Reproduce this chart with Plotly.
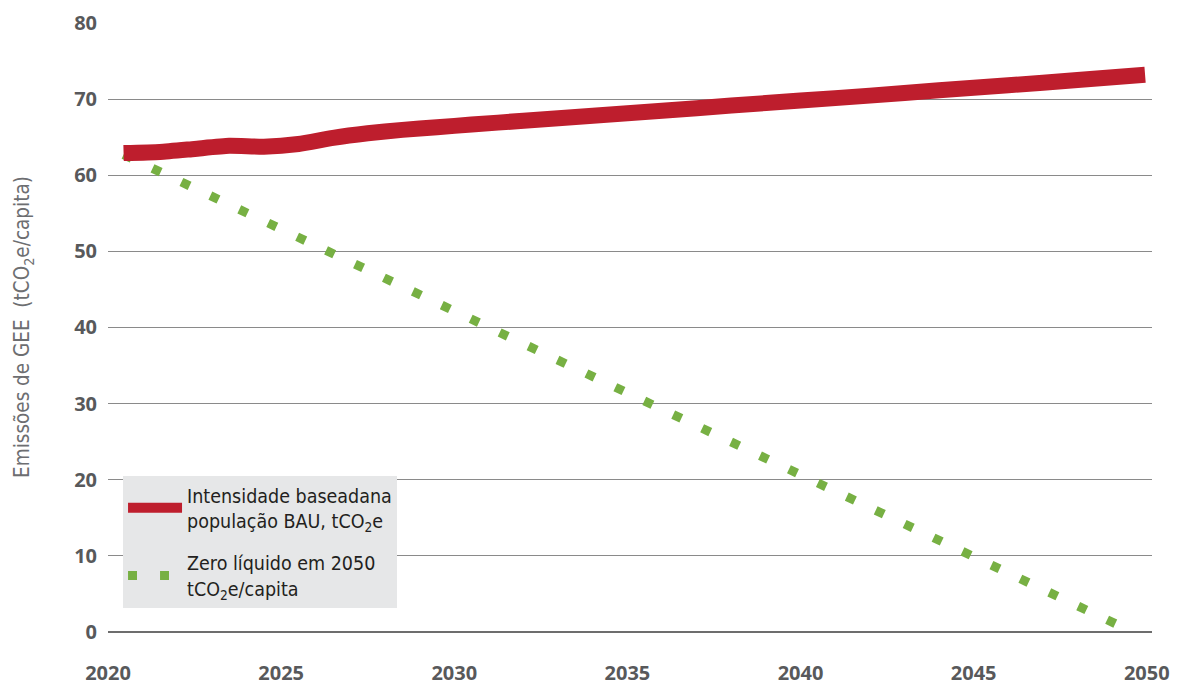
import plotly.graph_objects as go

# ---- data ----
years_bau = [2020.45, 2021.5, 2022.5, 2023.5, 2024.5, 2025.5, 2026.5, 2027.5, 2028.5,
             2029.5, 2030.5, 2032, 2034, 2036, 2038, 2040, 2042, 2044, 2046, 2048, 2049.95]
bau = [62.9, 63.05, 63.45, 63.85, 63.75, 64.1, 64.9, 65.5, 65.95,
       66.3, 66.65, 67.15, 67.8, 68.45, 69.15, 69.8, 70.45, 71.15, 71.8, 72.5, 73.2]

years_zero = [2020.45, 2049.6]
zero = [62.7, 0.0]

x_ticks = [2020, 2025, 2030, 2035, 2040, 2045, 2050]
y_ticks = [0, 10, 20, 30, 40, 50, 60, 70, 80]

name_bau = "Intensidade baseadana<br>população BAU, tCO<sub>2</sub>e"
name_zero = "Zero líquido em 2050<br>tCO<sub>2</sub>e/capita"
y_title = "Emissões de GEE\u00a0\u00a0(tCO<sub>2</sub>e/capita)"

RED = "#be1e2d"
GREEN = "#77b043"
TICK_FONT = dict(family="Open Sans", size=20, color="#58595b", weight=700)

fig = go.Figure()
fig.add_trace(go.Scatter(
    x=years_zero, y=zero, mode="lines", name=name_zero,
    line=dict(color=GREEN, width=9, dash="9px,23px"),
    legendrank=2, legendgroup="zero", hoverinfo="skip"))
fig.add_trace(go.Scatter(
    x=years_bau, y=bau, mode="lines", name=name_bau,
    line=dict(color=RED, width=16, shape="spline", smoothing=0.5),
    legendrank=1, legendgroup="bau", hoverinfo="skip"))

# page body has an 8px margin: figure is drawn from (8, 8)
fig.update_layout(
    width=1170, height=677,
    margin=dict(l=100, r=26, t=14, b=53, autoexpand=False),
    paper_bgcolor="white", plot_bgcolor="white",
    showlegend=True,
    legend=dict(
        x=0.0144, y=0.256, xanchor="left", yanchor="top",
        bgcolor="#e6e7e8", borderwidth=0,
        font=dict(family="DejaVu Sans Condensed", size=19.5, color="#231f20"),
        itemwidth=54, tracegroupgap=14, valign="middle",
        traceorder="grouped",
    ),
    xaxis=dict(
        range=[2020, 2050.15], tickmode="array", tickvals=x_ticks,
        ticktext=[str(v) for v in x_ticks],
        showgrid=False, zeroline=False, showline=False, ticks="",
        tickfont=TICK_FONT, ticklabelstandoff=27, automargin=False,
    ),
    yaxis=dict(
        range=[0, 80.12], tickmode="array", tickvals=y_ticks,
        showgrid=True, gridcolor="#8a8a8a", gridwidth=1,
        zeroline=True, zerolinecolor="#6d6d6d", zerolinewidth=1.5,
        showline=False, ticks="", tickfont=TICK_FONT, ticklabelstandoff=10,
        automargin=False,
        title=dict(text=y_title, standoff=38,
                   font=dict(family="DejaVu Sans Condensed", size=20.5, color="#6d6e71")),
    ),
)

fig.write_html("out.html")
